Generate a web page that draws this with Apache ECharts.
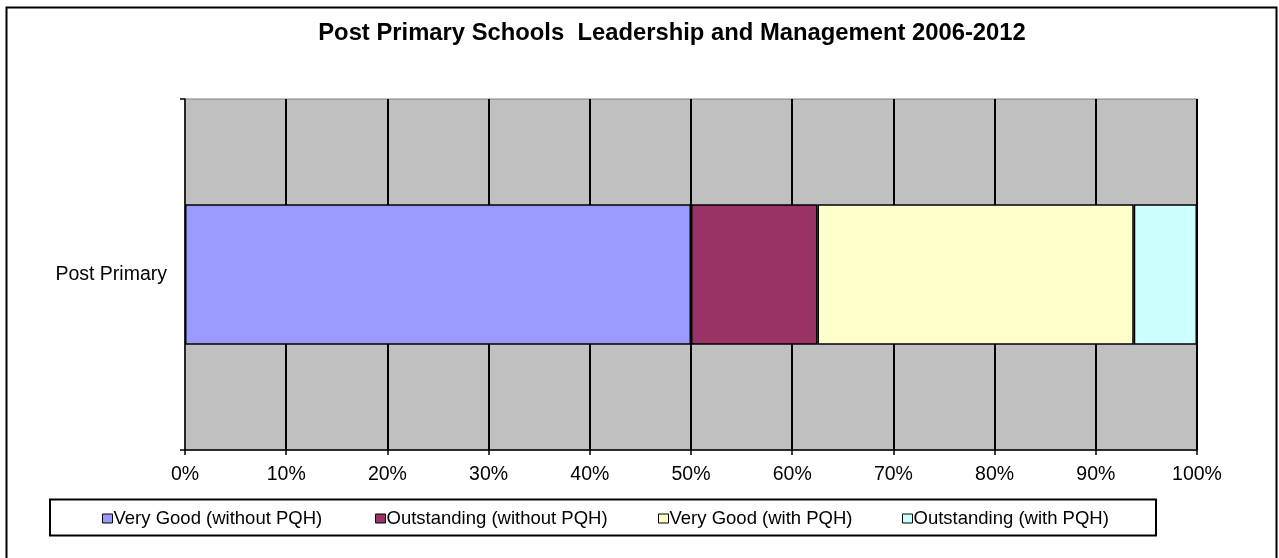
<!DOCTYPE html>
<html>
<head>
<meta charset="utf-8">
<script src="https://cdn.jsdelivr.net/npm/echarts@6/dist/echarts.min.js"></script>
<style>
html,body{margin:0;padding:0;background:#fff;}
#chart{width:1279px;height:558px;}
</style>
</head>
<body>
<div id="chart"></div>
<script>
const categories = ['Post Primary'];
const seriesNames = ['Very Good (without PQH)', 'Outstanding (without PQH)', 'Very Good (with PQH)', 'Outstanding (with PQH)'];
const veryGoodWithout = [50];
const outstandingWithout = [12.5];
const veryGoodWith = [31.25];
const outstandingWith = [6.25];
const seriesColors = ['#9999FF', '#993366', '#FFFFCC', '#CCFFFF'];
const legendLefts = [97, 370, 653, 897];

const values = [veryGoodWithout, outstandingWithout, veryGoodWith, outstandingWith];
const font = 'Liberation Sans, Arial, sans-serif';

const chart = echarts.init(document.getElementById('chart'), null, {renderer: 'canvas'});
chart.setOption({
  animation: false,
  backgroundColor: '#fff',
  title: {
    text: 'Post Primary Schools  Leadership and Management 2006-2012',
    left: 667, top: 16, textAlign: 'center',
    textStyle: {fontFamily: font, fontSize: 23.8, fontWeight: 'bold', color: '#000'}
  },
  graphic: [
    {type: 'rect', shape: {x: 6.5, y: 7.5, width: 1270, height: 560}, style: {fill: 'none', stroke: '#000', lineWidth: 2}, silent: true},
    {type: 'rect', shape: {x: 50, y: 499.5, width: 1106, height: 36}, style: {fill: '#fff', stroke: '#000', lineWidth: 2}, z: -1, silent: true}
  ],
  legend: seriesNames.map((n, i) => ({
    data: [n], left: legendLefts[i], top: 504, icon: 'rect', itemWidth: 10, itemHeight: 9, itemGap: 0,
    textStyle: {fontFamily: font, fontSize: 18.5, color: '#000', padding: [0, 0, 0, -4]},
    itemStyle: {borderColor: '#000', borderWidth: 1}
  })),
  grid: {
    left: 185, top: 99, width: 1012, height: 351,
    show: true, backgroundColor: '#C0C0C0', borderColor: '#808080', borderWidth: 1
  },
  xAxis: {
    type: 'value', min: 0, max: 100, interval: 10,
    axisLabel: {formatter: '{value}%', fontFamily: font, fontSize: 19.5, color: '#000', margin: 15},
    axisLine: {show: true, lineStyle: {color: '#000', width: 1.5}},
    axisTick: {show: true, length: 5, lineStyle: {color: '#000', width: 1.5}},
    splitLine: {show: true, lineStyle: {color: '#000', width: 2}}
  },
  yAxis: {
    type: 'category', data: categories,
    axisLabel: {fontFamily: font, fontSize: 19.5, color: '#000', margin: 18},
    axisLine: {show: true, lineStyle: {color: '#333', width: 1.5}},
    axisTick: {show: true, length: 5, lineStyle: {color: '#000', width: 1.5}}
  },
  series: seriesNames.map((n, i) => ({
    name: n, type: 'bar', stack: 'total', data: values[i], barWidth: '40%',
    itemStyle: {color: seriesColors[i], borderColor: '#000', borderWidth: 1.5}
  }))
});
</script>
</body>
</html>
